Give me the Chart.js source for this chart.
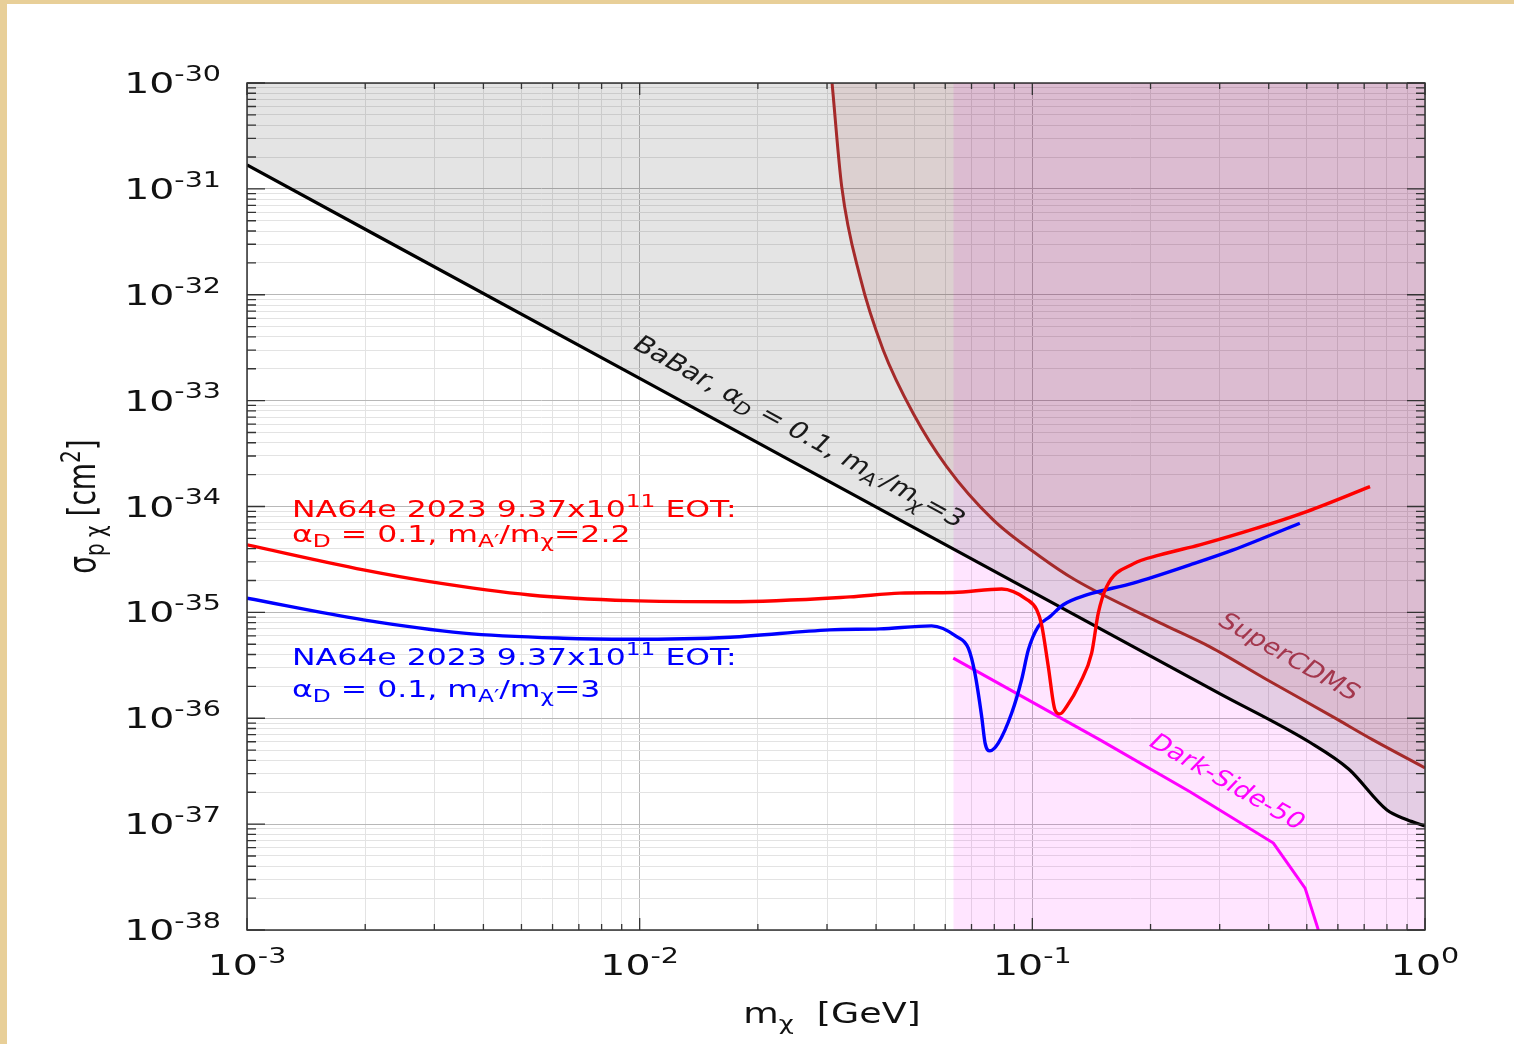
<!DOCTYPE html>
<html>
<head>
<meta charset="utf-8">
<script src="https://cdn.jsdelivr.net/npm/chart.js@4.4.0/dist/chart.umd.min.js"></script>
<style>
  body { margin: 0; background: #fff; }
  #wrap { position: relative; width: 1514px; height: 1044px; overflow: hidden; background: #fff; }
  .strip { position: absolute; background: #e8cf98; }
  canvas { position: absolute; left: 0; top: 0; }
</style>
</head>
<body>
<div id="wrap">
  <div class="strip" style="left:0;top:0;width:1514px;height:4px"></div>
  <div class="strip" style="left:0;top:0;width:7px;height:1044px"></div>
  <canvas id="chart" width="1514" height="1044"></canvas>
</div>
<script>
// tick label exponents
const xTickExps = [-3, -2, -1, 0];
const yTickExps = [-38, -37, -36, -35, -34, -33, -32, -31, -30];

// BaBar, alpha_D = 0.1, mA'/mchi = 3
const babarMass  = [0.001, 0.01, 0.1, 0.3, 0.51, 0.64, 0.8, 0.9, 1.0];
const babarSigma = [1.68e-31, 1.62e-33, 1.56e-35, 1.71e-36, 5.9e-37, 3.3e-37, 1.36e-37, 1.1e-37, 9.6e-38];

// SuperCDMS
const cdmsMass  = [0.0309, 0.0327, 0.0364, 0.0417, 0.0497, 0.0605, 0.0795, 0.1046, 0.1284, 0.2114, 0.2835, 0.396, 0.583, 0.737, 1.0];
const cdmsSigma = [1.0e-30, 1.05e-31, 1.48e-32, 3.01e-33, 7.6e-34, 2.38e-34, 7.47e-35, 3.37e-35, 2.03e-35, 7.96e-36, 4.72e-36, 2.31e-36, 1.03e-36, 6.25e-37, 3.4e-37];

// Dark-Side-50 line and its shaded band
const ds50Mass  = [0.0629, 0.1487, 0.252, 0.411, 0.495, 0.535];
const ds50Sigma = [3.7e-36, 6.25e-37, 2.02e-37, 6.62e-38, 2.49e-38, 1.0e-38];
const ds50BandMass  = [0.0629, 1.0];
const ds50BandSigma = [1e-30, 1e-30];

// NA64e 2023, mA'/mchi = 2.2 (red)
const na64RedMass  = [0.001, 0.00198, 0.00292, 0.00526, 0.00945, 0.017, 0.0343, 0.046, 0.0629, 0.0836, 0.0967, 0.1026, 0.1056, 0.1098, 0.1142, 0.1176, 0.1223, 0.1322, 0.1416, 0.1472, 0.1546, 0.1807, 0.2114, 0.267, 0.3726, 0.4995, 0.7245];
const na64RedSigma = [4.34e-35, 2.52e-35, 1.95e-35, 1.46e-35, 1.29e-35, 1.26e-35, 1.4e-35, 1.52e-35, 1.54e-35, 1.66e-35, 1.33e-35, 1.06e-35, 7.62e-36, 3.08e-36, 1.2e-36, 1.1e-36, 1.29e-36, 2.14e-36, 4.12e-36, 9.82e-36, 1.75e-35, 2.87e-35, 3.49e-35, 4.34e-35, 6.24e-35, 8.95e-35, 1.54e-34];

// NA64e 2023, mA'/mchi = 3 (blue)
const na64BlueMass  = [0.001, 0.00198, 0.00356, 0.00639, 0.00945, 0.017, 0.0305, 0.0409, 0.0554, 0.0642, 0.0687, 0.0714, 0.0743, 0.0758, 0.078, 0.0819, 0.0886, 0.0939, 0.0977, 0.1035, 0.1109, 0.1199, 0.1375, 0.1807, 0.252, 0.325, 0.48];
const na64BlueSigma = [1.36e-35, 8.49e-36, 6.37e-36, 5.7e-36, 5.58e-36, 5.83e-36, 6.84e-36, 6.99e-36, 7.46e-36, 5.91e-36, 4.59e-36, 2.67e-36, 1.04e-36, 5.82e-37, 4.92e-37, 5.82e-37, 1.12e-36, 2.31e-36, 4.43e-36, 7.34e-36, 9.12e-36, 1.18e-35, 1.46e-35, 1.89e-35, 2.81e-35, 3.89e-35, 6.95e-35];

const FONT = '"DejaVu Sans"';
const X_STRETCH = 1.3;

function pts(xs, ys) {
    return xs.map((x, i) => ({ x: x, y: ys[i] }));
}

function isMajor(v) {
    const lg = Math.log10(v);
    return Math.abs(lg - Math.round(lg)) < 1e-6;
}

function logTicks(e0, e1) {
    const ticks = [];
    for (let e = e0; e < e1; e++) {
        for (let m = 1; m <= 9; m++) ticks.push({ value: m * Math.pow(10, e) });
    }
    ticks.push({ value: Math.pow(10, e1) });
    return ticks;
}

// parts: [text, ''|'sup'|'sub']
function drawRich(ctx, parts, x, y, o) {
    const size = o.size;
    const sx = o.sx || X_STRETCH;
    const fontOf = k => (k ? Math.round(size * 0.72) : size) + 'px ' + FONT;
    ctx.save();
    ctx.translate(x, y);
    ctx.scale(sx, 1);
    if (o.slope !== undefined) ctx.rotate(Math.atan(o.slope * sx));
    if (o.rot) ctx.rotate(o.rot);
    let w = 0;
    parts.forEach(p => { ctx.font = fontOf(p[1]); w += ctx.measureText(p[0]).width; });
    let cx = o.align === 'center' ? -w / 2 : o.align === 'right' ? -w : 0;
    const base = o.middle ? size * 0.36 : 0;
    ctx.fillStyle = o.color;
    ctx.textBaseline = 'alphabetic';
    ctx.textAlign = 'left';
    parts.forEach(p => {
        ctx.font = fontOf(p[1]);
        const dy = p[1] === 'sup' ? -size * 0.42 : p[1] === 'sub' ? size * 0.24 : 0;
        ctx.fillText(p[0], cx, base + dy);
        cx += ctx.measureText(p[0]).width;
    });
    ctx.restore();
}

// text labels placed at data coordinates
const annotations = [
    { at: [0.02561, 5.18e-34], slope: 0.554, align: 'center', middle: true, size: 23, color: '#1a1a1a',
      parts: [['BaBar, α', ''], ['D', 'sub'], [' = 0.1, m', ''], ['A′', 'sub'], ['/m', ''], ['χ', 'sub'], ['=3', '']] },
    { at: [0.453, 3.88e-36], slope: 0.568, align: 'center', middle: true, size: 22, color: '#a3374d',
      parts: [['SuperCDMS', '']] },
    { at: [0.3149, 2.56e-37], slope: 0.571, align: 'center', middle: true, size: 22, color: '#ff00ff',
      parts: [['Dark-Side-50', '']] },
    { at: [0.001302, 7.98e-35], size: 23, sx: 1.37, color: '#ff0000',
      parts: [['NA64e 2023 9.37x10', ''], ['11', 'sup'], [' EOT:', '']] },
    { at: [0.001302, 4.64e-35], size: 23, sx: 1.37, color: '#ff0000',
      parts: [['α', ''], ['D', 'sub'], [' = 0.1, m', ''], ['A′', 'sub'], ['/m', ''], ['χ', 'sub'], ['=2.2', '']] },
    { at: [0.001302, 3.19e-36], size: 23, sx: 1.37, color: '#0000ff',
      parts: [['NA64e 2023 9.37x10', ''], ['11', 'sup'], [' EOT:', '']] },
    { at: [0.001302, 1.59e-36], size: 23, sx: 1.37, color: '#0000ff',
      parts: [['α', ''], ['D', 'sub'], [' = 0.1, m', ''], ['A′', 'sub'], ['/m', ''], ['χ', 'sub'], ['=3', '']] }
];

const decorPlugin = {
    id: 'decor',
    afterDraw(chart) {
        const ctx = chart.ctx;
        const a = chart.chartArea;
        const xs = chart.scales.x, ys = chart.scales.y;

        // frame
        ctx.save();
        ctx.strokeStyle = '#333';
        ctx.lineWidth = 1.5;
        ctx.strokeRect(a.left, a.top, a.right - a.left, a.bottom - a.top);

        // inside ticks on all four sides
        ctx.strokeStyle = '#333';
        ctx.lineWidth = 1.3;
        ctx.beginPath();
        xs.ticks.forEach(t => {
            const p = xs.getPixelForValue(t.value);
            const len = isMajor(t.value) ? 12 : 6;
            ctx.moveTo(p, a.bottom); ctx.lineTo(p, a.bottom - len);
            ctx.moveTo(p, a.top); ctx.lineTo(p, a.top + len);
        });
        ys.ticks.forEach(t => {
            const p = ys.getPixelForValue(t.value);
            const len = isMajor(t.value) ? 18 : 9;
            ctx.moveTo(a.left, p); ctx.lineTo(a.left + len, p);
            ctx.moveTo(a.right, p); ctx.lineTo(a.right - len, p);
        });
        ctx.stroke();
        ctx.restore();

        // tick labels
        yTickExps.forEach(e => {
            const p = ys.getPixelForValue(Math.pow(10, e));
            drawRich(ctx, [['10', ''], [String(e), 'sup']], a.left - 26, p + 10,
                { size: 29, sx: 1.36, align: 'right', color: '#111' });
        });
        xTickExps.forEach(e => {
            const p = xs.getPixelForValue(Math.pow(10, e));
            drawRich(ctx, [['10', ''], [String(e), 'sup']], p, a.bottom + 45,
                { size: 29, sx: 1.36, align: 'center', color: '#111' });
        });

        // axis titles
        drawRich(ctx, [['m', ''], ['χ', 'sub'], ['  [GeV]', '']], (a.left + a.right) / 2 - 4, a.bottom + 93,
            { size: 28, align: 'center', color: '#111' });
        drawRich(ctx, [['σ', ''], ['p χ', 'sub'], [' [cm', ''], ['2', 'sup'], [']', '']], a.left - 152, (a.top + a.bottom) / 2,
            { size: 28, align: 'center', rot: -Math.PI / 2, color: '#111' });

        // annotations
        annotations.forEach(n => {
            drawRich(ctx, n.parts, xs.getPixelForValue(n.at[0]), ys.getPixelForValue(n.at[1]), n);
        });
    }
};

new Chart(document.getElementById('chart'), {
    type: 'line',
    data: {
        datasets: [
            {
                label: 'NA64e 2023, mA\'/mχ=2.2',
                data: pts(na64RedMass, na64RedSigma),
                borderColor: '#ff0000',
                borderWidth: 3.4,
                cubicInterpolationMode: 'monotone',
                pointRadius: 0,
                fill: false,
                order: 0
            },
            {
                label: 'NA64e 2023, mA\'/mχ=3',
                data: pts(na64BlueMass, na64BlueSigma),
                borderColor: '#0000ff',
                borderWidth: 3.4,
                cubicInterpolationMode: 'monotone',
                pointRadius: 0,
                fill: false,
                order: 1
            },
            {
                label: 'BaBar',
                data: pts(babarMass, babarSigma),
                borderColor: '#000000',
                borderWidth: 3.2,
                cubicInterpolationMode: 'monotone',
                pointRadius: 0,
                fill: 'end',
                backgroundColor: 'rgba(0,0,0,0.105)',
                order: 2
            },
            {
                label: 'SuperCDMS',
                data: pts(cdmsMass, cdmsSigma),
                borderColor: '#a52a2a',
                borderWidth: 3,
                cubicInterpolationMode: 'monotone',
                pointRadius: 0,
                fill: 'end',
                backgroundColor: 'rgba(165,42,42,0.1)',
                order: 3
            },
            {
                label: 'Dark-Side-50',
                data: pts(ds50Mass, ds50Sigma),
                borderColor: '#ff00ff',
                borderWidth: 3,
                pointRadius: 0,
                fill: false,
                order: 4
            },
            {
                label: 'Dark-Side-50 band',
                data: pts(ds50BandMass, ds50BandSigma),
                borderWidth: 0,
                borderColor: 'rgba(0,0,0,0)',
                pointRadius: 0,
                fill: 'start',
                backgroundColor: 'rgba(255,0,255,0.1)',
                order: 5
            }
        ]
    },
    options: {
        responsive: false,
        animation: false,
        layout: { padding: { left: 247, top: 83, right: 89, bottom: 114 } },
        plugins: {
            legend: { display: false },
            tooltip: { enabled: false },
            filler: { drawTime: 'beforeDatasetsDraw' }
        },
        scales: {
            x: {
                type: 'logarithmic',
                min: 1e-3,
                max: 1,
                ticks: { display: false },
                border: { display: false },
                grid: {
                    drawTicks: false,
                    lineWidth: 1,
                    color: c => isMajor(c.tick.value) ? '#b8b8b8' : '#e3e3e3'
                },
                afterBuildTicks: s => { s.ticks = logTicks(-3, 0); }
            },
            y: {
                type: 'logarithmic',
                min: 1e-38,
                max: 1e-30,
                ticks: { display: false },
                border: { display: false },
                grid: {
                    drawTicks: false,
                    lineWidth: 1,
                    color: c => isMajor(c.tick.value) ? '#b8b8b8' : '#e3e3e3'
                },
                afterBuildTicks: s => { s.ticks = logTicks(-38, -30); }
            }
        }
    },
    plugins: [decorPlugin]
});
</script>
</body>
</html>
